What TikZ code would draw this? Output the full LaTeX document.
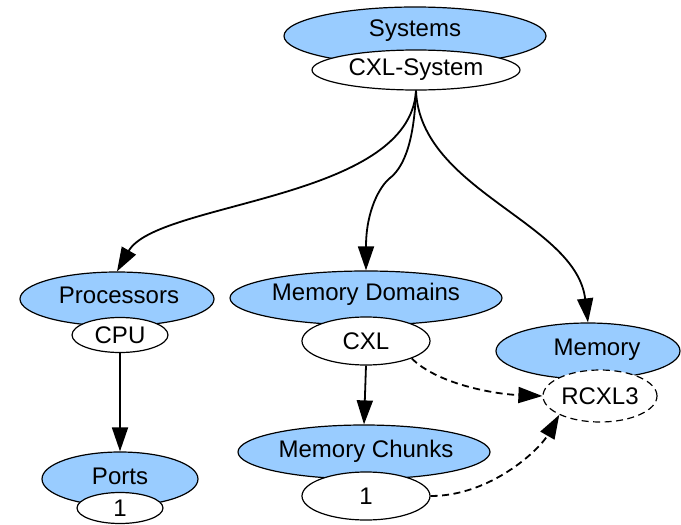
\documentclass[tikz,border=0pt]{standalone}
\usepackage{fontspec}
\setmainfont{Liberation Sans}
\usepackage{tikz}
\usetikzlibrary{shapes.geometric}
\usetikzlibrary{arrows.meta}
\definecolor{kindblue}{RGB}{153,204,255}
\tikzset{
  kind/.style={ellipse, draw, line width=1.2pt, fill=kindblue, inner sep=0pt},
  item/.style={ellipse, draw, line width=1.2pt, fill=white, inner sep=0pt},
  link/.style={line width=1.8pt, -{Triangle[length=24pt,width=16pt]}},
  ref/.style={link, dash pattern=on 7pt off 4.5pt}
}
\begin{document}
\begin{tikzpicture}[x=1pt, y=-1pt, font=\fontsize{24}{28}\selectfont]
            \useasboundingbox (0,0) rectangle (681,525);

            % Systems
            \node[kind, minimum width=262pt, minimum height=58pt] (sys) at (415,36) {};
            \node[item, minimum width=208pt, minimum height=40pt] (sysv) at (416,70) {CXL-System};
            \node at (415,31) {Systems};

            % Processors and ports
            \node[kind, minimum width=194pt, minimum height=54pt] (proc) at (117,299) {};
            \node[item, minimum width=96pt, minimum height=35pt] (cpu) at (120,335) {CPU};
            \node at (119,295) {Processors};
            \node[kind, minimum width=156pt, minimum height=54pt] (ports) at (120,479) {};
            \node[item, minimum width=86pt, minimum height=31pt] (port1) at (120,508) {1};
            \node at (120,476) {Ports};

            % Memory domains and chunks
            \node[kind, minimum width=272pt, minimum height=54pt] (dom) at (366,298) {};
            \node[item, minimum width=128pt, minimum height=48pt] (cxl) at (366,341) {CXL};
            \node at (366,294) {Memory Domains};
            \node[kind, minimum width=252pt, minimum height=54pt] (chunks) at (364,452) {};
            \node[item, minimum width=128pt, minimum height=48pt] (chunk1) at (366,496) {1};
            \node at (366,451) {Memory Chunks};

            % Memory
            \node[kind, minimum width=184pt, minimum height=56pt] (mem) at (588,351) {};
            \node[item, dash pattern=on 7pt off 4.5pt, minimum width=114pt, minimum height=52pt] (rcxl) at (600,396) {RCXL3};
            \node at (597,350) {Memory};

            % Containment
            \draw[link] (sysv.south) .. controls +(-6,110) and +(40,-70) .. (proc.north);
            \draw[link] (sysv.south) .. controls +(-2,60) and +(10,-8) .. (390,178)
                .. controls +(-10,8) and +(0,-60) .. (dom.north);
            \draw[link] (sysv.south) .. controls +(4,100) and +(-12,-100) .. (mem.north);
            \draw[link] (cpu.south) -- (ports.north);
            \draw[link] (cxl.south) -- (chunks.north);

            % References
            \draw[ref] (cxl.south east) .. controls +(25,25) and +(-50,-2) .. (rcxl.west);
            \draw[ref] (chunk1.east) .. controls +(60,0) and +(-20,35) .. (rcxl.south west);
        \end{tikzpicture}
\end{document}
